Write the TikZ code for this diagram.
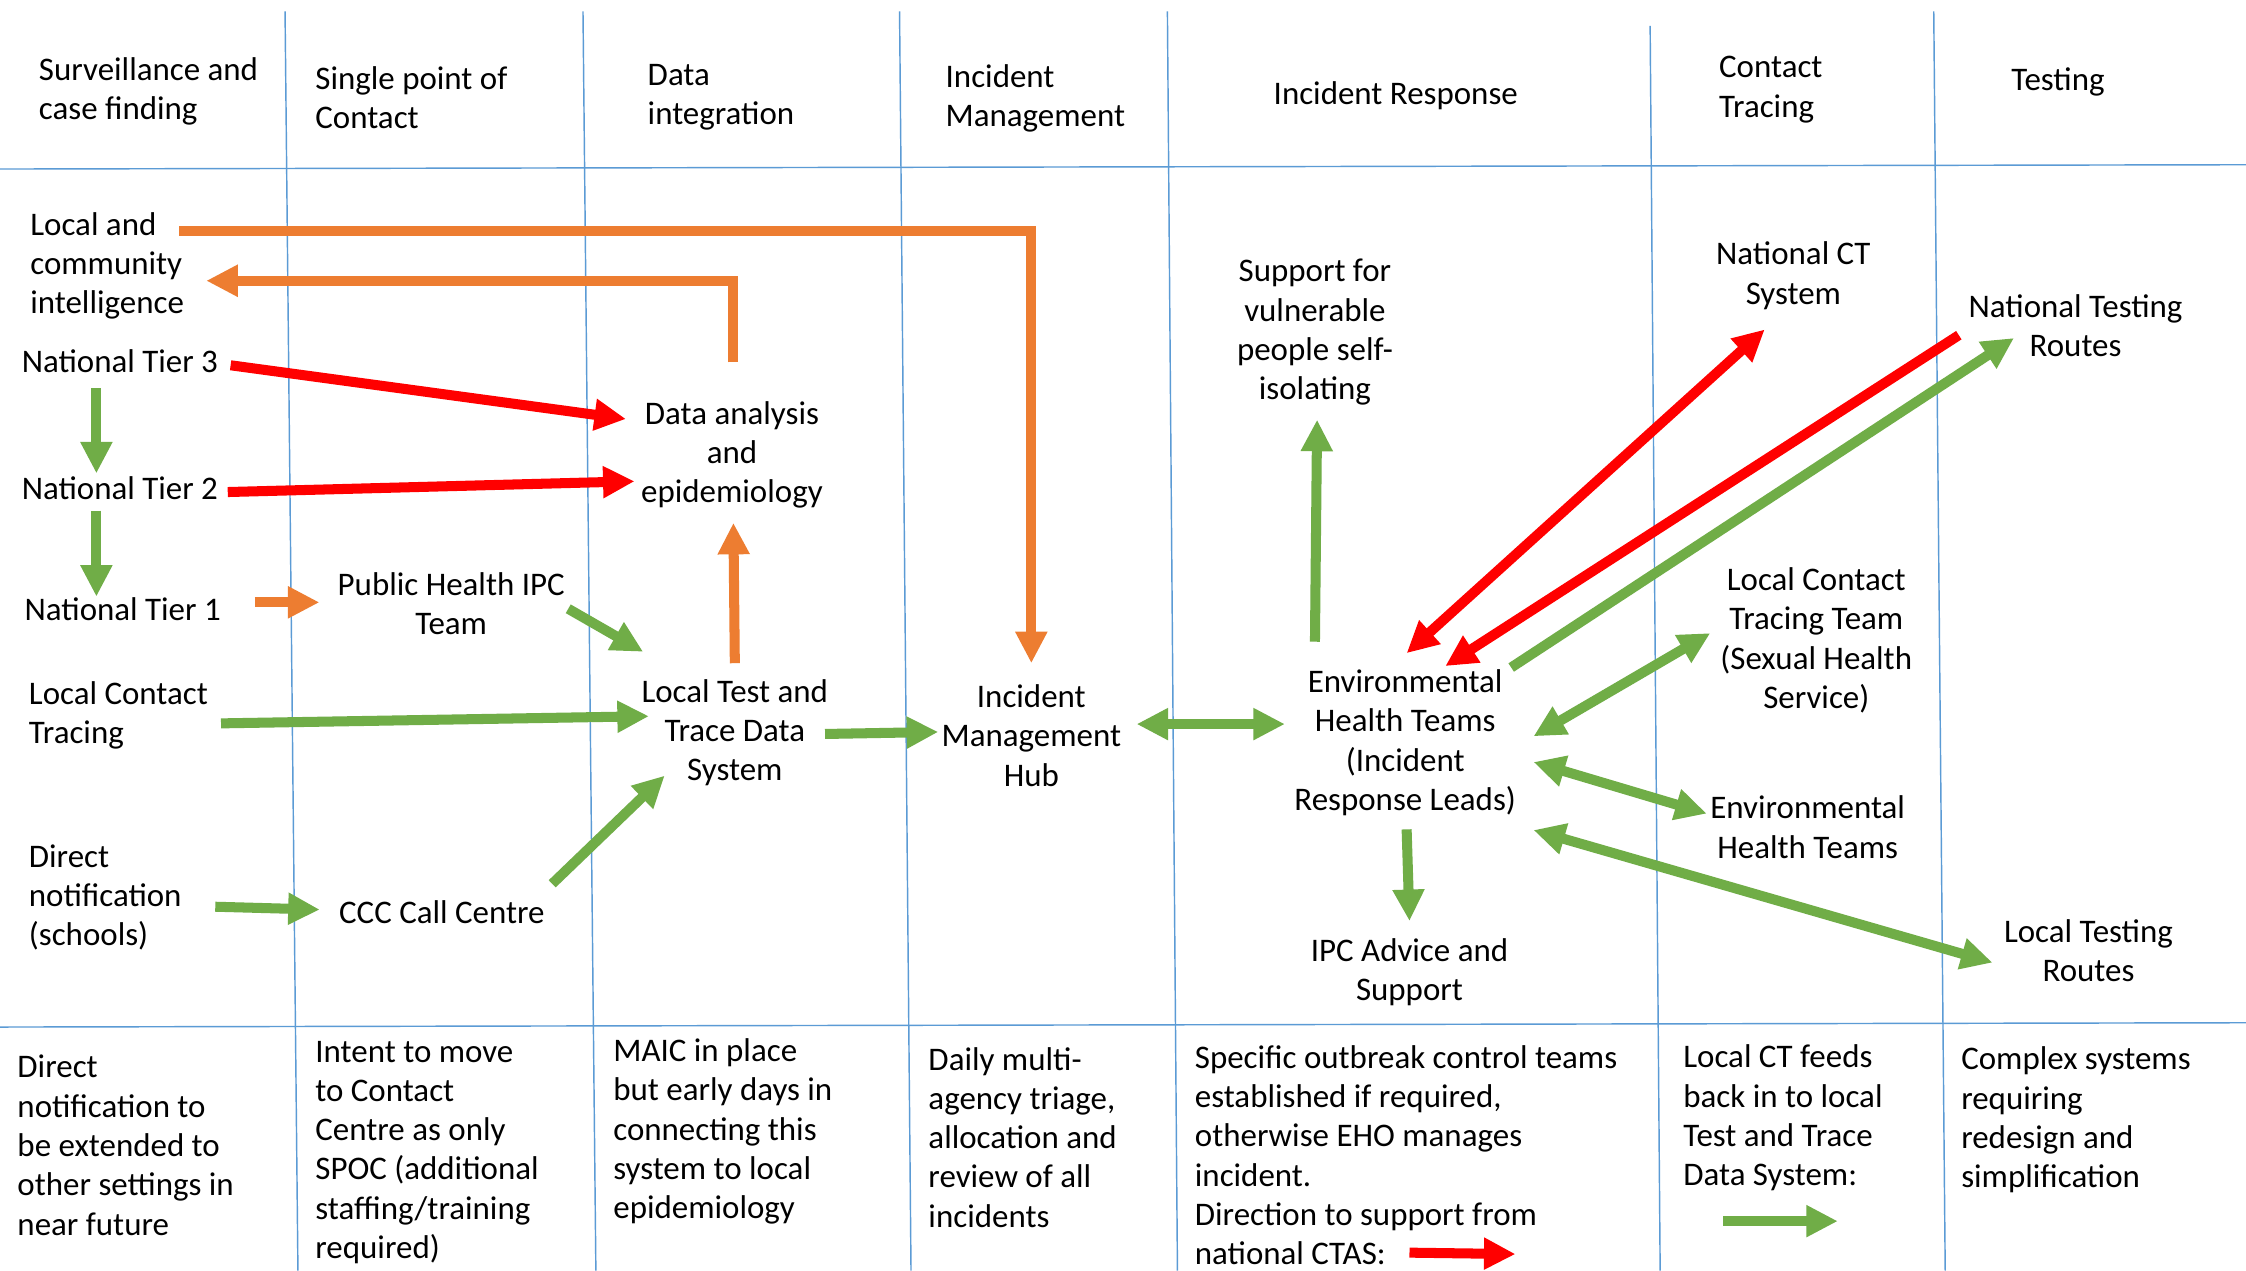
\documentclass[tikz,border=0pt]{standalone}
\usepackage{fontspec}
\setmainfont{Carlito}
\usetikzlibrary{arrows.meta}
\definecolor{gridblue}{HTML}{5B9BD5}
\definecolor{arrorange}{HTML}{ED7D31}
\definecolor{arrgreen}{HTML}{70AD47}
\definecolor{arrred}{HTML}{FF0000}
\begin{document}
\begin{tikzpicture}[x=1pt,y=-1pt,
  lbl/.style={inner sep=0pt, font=\fontsize{23}{27.45}\selectfont},
  lblc/.style={lbl, align=center},
  lbll/.style={lbl, align=left, anchor=west},
  gridline/.style={draw=gridblue, line width=1pt},
  tipone/.style={-{Triangle[length=22pt,width=21pt]}},
  tiptwo/.style={{Triangle[length=22pt,width=21pt]}-{Triangle[length=22pt,width=21pt]}},
  fat/.style={line width=7pt, line join=miter},
  org/.style={fat, draw=arrorange, tipone},
  grn/.style={fat, draw=arrgreen, tipone},
  grn2/.style={fat, draw=arrgreen, tiptwo},
  rd/.style={fat, draw=arrred, tipone},
  rd2/.style={fat, draw=arrred, tiptwo}]
\useasboundingbox (0,0) rectangle (1568,887);
\fill[white] (0,0) rectangle (1568,887);
% grid
\draw[gridline] (0,118) -- (1568,115);
\draw[gridline] (0,717) -- (1568,714);
\draw[gridline] (199,8) -- (208,887);
\draw[gridline] (407,8) -- (416,887);
\draw[gridline] (628,8) -- (636,887);
\draw[gridline] (815,8) -- (822,887);
\draw[gridline] (1152,18) -- (1159,887);
\draw[gridline] (1350,8) -- (1358,887);
% headers
\node[lbll] (h1) at (27,64) {Surveillance and\\case finding};
\node[lbll] (h2) at (220,68) {Single point of\\Contact};
\node[lbll] (h3) at (452,68) {Data\\integration};
\node[lbll] (h4) at (660,68.5) {Incident\\Management};
\node[lbll] (h5) at (889,67) {Incident Response};
\node[lbll] (h6) at (1200,62.5) {Contact\\Tracing};
\node[lbll] (h7) at (1404,57) {Testing};
% body nodes
\node[lbll] (lci) at (21,185.5) {Local and\\community\\intelligence};
\node[lbll] (t3) at (15,252) {National Tier 3};
\node[lbll] (t2) at (15,341) {National Tier 2};
\node[lbll] (t1) at (17,425) {National Tier 1};
\node[lbll] (lct) at (20,499.5) {Local Contact\\Tracing};
\node[lbll] (dn) at (20,626.5) {Direct\\notification\\(schools)};
\node[lblc] (phipc) at (315,421.5) {Public Health IPC\\Team};
\node[lblc] (ccc) at (308.5,637) {CCC Call Centre};
\node[lblc] (dae) at (511,317.5) {Data analysis\\and\\epidemiology};
\node[lblc] (ltt) at (513,511.5) {Local Test and\\Trace Data\\System};
\node[lblc] (imh) at (720,513.5) {Incident\\Management\\Hub};
\node[lblc] (svp) at (918,232) {Support for\\vulnerable\\people self-\\isolating};
\node[lblc] (eht) at (981,518.5) {Environmental\\Health Teams\\(Incident\\Response Leads)};
\node[lblc] (ipc) at (984,678.5) {IPC Advice and\\Support};
\node[lblc] (nct) at (1252,192.5) {National CT\\System};
\node[lblc] (ntr) at (1449,227.5) {National Testing\\Routes};
\node[lblc] (lctt) at (1268,447) {Local Contact\\Tracing Team\\(Sexual Health\\Service)};
\node[lblc] (eht2) at (1262,577.5) {Environmental\\Health Teams};
\node[lblc] (ltr) at (1458,663.5) {Local Testing\\Routes};
% bottom notes
\node[lbll] (b1) at (12,799.5) {Direct\\notification to\\be extended to\\other settings in\\near future};
\node[lbll] (b2) at (220,804.5) {Intent to move\\to Contact\\Centre as only\\SPOC (additional\\staffing/training\\required)};
\node[lbll] (b3) at (428,790) {MAIC in place\\but early days in\\connecting this\\system to local\\epidemiology};
\node[lbll] (b4) at (648,794) {Daily multi-\\agency triage,\\allocation and\\review of all\\incidents};
\node[lbll] (b5) at (834,806.5) {Specific outbreak control teams\\established if required,\\otherwise EHO manages\\incident.\\Direction to support from\\national CTAS:};
\node[lbll] (b6) at (1175,780.5) {Local CT feeds\\back in to local\\Test and Trace\\Data System:};
\node[lbll] (b7) at (1369,782) {Complex systems\\requiring\\redesign and\\simplification};
% arrow end points
\coordinate (o1a) at (125,161);
\coordinate (o1b) at (720,463);
\coordinate (o2a) at (511.5,253);
\coordinate (o2b) at (144,196);
\coordinate (o3a) at (178,420.5);
\coordinate (o3b) at (223,420.5);
\coordinate (o4a) at (513,463);
\coordinate (o4b) at (512,365);
\coordinate (r1a) at (161,255);
\coordinate (r1b) at (437,292.5);
\coordinate (r2a) at (159,343.5);
\coordinate (r2b) at (443,336);
\coordinate (r3a) at (982,456);
\coordinate (r3b) at (1232,230);
\coordinate (r4a) at (1367.5,234);
\coordinate (r4b) at (1009,465);
\coordinate (g1a) at (67.3,271);
\coordinate (g1b) at (67.3,330.5);
\coordinate (g2a) at (67.3,356.5);
\coordinate (g2b) at (67.3,416.5);
\coordinate (g3a) at (396.7,425);
\coordinate (g3b) at (449,455);
\coordinate (g4a) at (154.3,505);
\coordinate (g4b) at (453,500);
\coordinate (g5a) at (150.3,633);
\coordinate (g5b) at (223.2,635);
\coordinate (g6a) at (385.5,617);
\coordinate (g6b) at (464,541.5);
\coordinate (g7a) at (576,512.4);
\coordinate (g7b) at (655,511);
\coordinate (g8a) at (793.5,505.5);
\coordinate (g8b) at (897,505.5);
\coordinate (g9a) at (918,448);
\coordinate (g9b) at (919.5,293);
\coordinate (g10a) at (982,579);
\coordinate (g10b) at (984,643);
\coordinate (g11a) at (1055,466);
\coordinate (g11b) at (1406,236);
\coordinate (g12a) at (1070.6,514);
\coordinate (g12b) at (1194,442);
\coordinate (g13a) at (1070.6,532);
\coordinate (g13b) at (1191.5,568);
\coordinate (g14a) at (1070.6,579.5);
\coordinate (g14b) at (1391,672);
\coordinate (lr1) at (984,874.5);
\coordinate (lr2) at (1058,875.5);
\coordinate (lg1) at (1203,852.5);
\coordinate (lg2) at (1283,852.5);
% orange
\draw[org] (o1a) -| (o1b);
\draw[org] (o2a) |- (o2b);
\draw[org] (o3a) -- (o3b);
\draw[org] (o4a) -- (o4b);
% red
\draw[rd] (r1a) -- (r1b);
\draw[rd] (r2a) -- (r2b);
\draw[rd2] (r3a) -- (r3b);
\draw[rd] (r4a) -- (r4b);
\draw[rd] (lr1) -- (lr2);
% green
\draw[grn] (g1a) -- (g1b);
\draw[grn] (g2a) -- (g2b);
\draw[grn] (g3a) -- (g3b);
\draw[grn] (g4a) -- (g4b);
\draw[grn] (g5a) -- (g5b);
\draw[grn] (g6a) -- (g6b);
\draw[grn] (g7a) -- (g7b);
\draw[grn2] (g8a) -- (g8b);
\draw[grn] (g9a) -- (g9b);
\draw[grn] (g10a) -- (g10b);
\draw[grn] (g11a) -- (g11b);
\draw[grn2] (g12a) -- (g12b);
\draw[grn2] (g13a) -- (g13b);
\draw[grn2] (g14a) -- (g14b);
\draw[grn] (lg1) -- (lg2);
\end{tikzpicture}
\end{document}
